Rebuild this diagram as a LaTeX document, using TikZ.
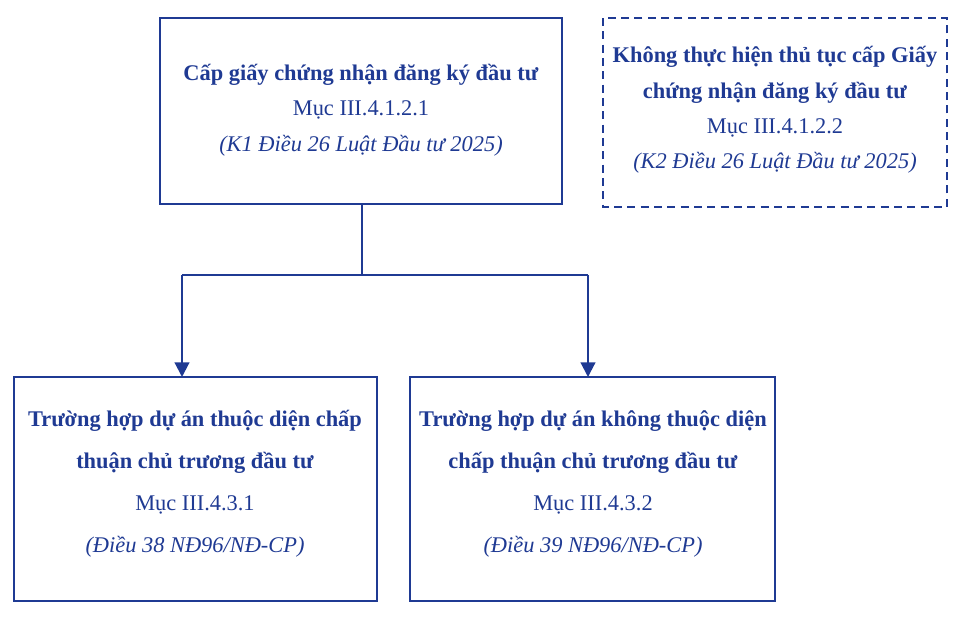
\documentclass[tikz,border=0pt]{standalone}
\usepackage{fontspec}
\setmainfont{Liberation Serif}
\usetikzlibrary{arrows.meta}
\definecolor{db}{HTML}{1F3A93}
\begin{document}
\begin{tikzpicture}[x=0.75pt,y=-0.75pt,
 box/.style={draw=db,line width=1.6pt,inner sep=0pt},
 lbl/.style={text=db,align=center,font=\fontsize{16.8}{26.5}\selectfont},
 lblb/.style={text=db,align=center,font=\fontsize{16.8}{31.5}\selectfont},
 arr/.style={draw=db,line width=1.6pt,-{Triangle[length=11pt,width=11pt]}}]
\useasboundingbox (0,0) rectangle (960,629);
\draw[box] (160,18) rectangle (562,204);
\draw[box,dash pattern=on 6pt off 4pt] (603,18) rectangle (947,207);
\draw[box] (14,377) rectangle (377,601);
\draw[box] (410,377) rectangle (775,601);
\node[lbl] (t) at (361,110) {\textbf{Cấp giấy chứng nhận đăng ký đầu tư}\\Mục III.4.1.2.1\\\textit{(K1 Điều 26 Luật Đầu tư 2025)}};
\node[lbl] (d) at (775,110) {\textbf{Không thực hiện thủ tục cấp Giấy}\\\textbf{chứng nhận đăng ký đầu tư}\\Mục III.4.1.2.2\\\textit{(K2 Điều 26 Luật Đầu tư 2025)}};
\node[lblb] (l) at (195,484) {\textbf{Trường hợp dự án thuộc diện chấp}\\\textbf{thuận chủ trương đầu tư}\\Mục III.4.3.1\\\textit{(Điều 38 NĐ96/NĐ-CP)}};
\node[lblb] (r) at (593,484) {\textbf{Trường hợp dự án không thuộc diện}\\\textbf{chấp thuận chủ trương đầu tư}\\Mục III.4.3.2\\\textit{(Điều 39 NĐ96/NĐ-CP)}};
\coordinate (a) at (362,204);
\coordinate (j) at (362,275);
\coordinate (jl) at (182,275);
\coordinate (jr) at (588,275);
\coordinate (el) at (182,377);
\coordinate (er) at (588,377);
\draw[draw=db,line width=1.6pt] (a) -- (j) (jl) -- (jr);
\draw[arr] (jl) -- (el);
\draw[arr] (jr) -- (er);
\end{tikzpicture}
\end{document}
